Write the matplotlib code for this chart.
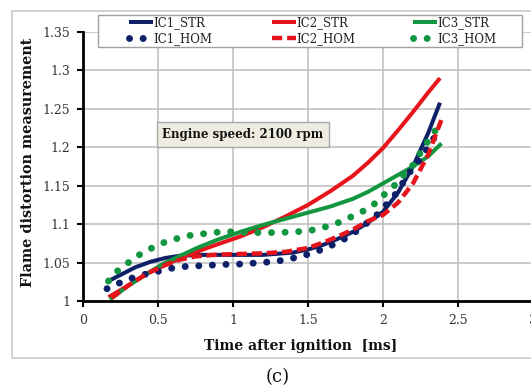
import matplotlib
matplotlib.use('Agg')
import matplotlib.pyplot as plt
from matplotlib.patches import Rectangle

# ---------------- data ----------------
ic1_str_t = [0.17, 0.25, 0.35, 0.45, 0.55, 0.65, 0.8, 1.0, 1.2, 1.4, 1.5, 1.6, 1.7, 1.8, 1.9, 2.0, 2.1, 2.2, 2.3, 2.38]
ic1_str_v = [1.026, 1.034, 1.044, 1.051, 1.056, 1.059, 1.060, 1.060, 1.060, 1.063, 1.067, 1.073, 1.081, 1.090, 1.102, 1.116, 1.141, 1.175, 1.218, 1.258]

ic2_str_t = [0.17, 0.3, 0.43, 0.55, 0.65, 0.8, 0.9, 1.05, 1.2, 1.35, 1.5, 1.65, 1.8, 1.9, 2.0, 2.1, 2.2, 2.3, 2.38]
ic2_str_v = [1.005, 1.020, 1.036, 1.047, 1.056, 1.067, 1.074, 1.084, 1.096, 1.110, 1.125, 1.143, 1.163, 1.180, 1.199, 1.222, 1.246, 1.271, 1.290]

ic3_str_t = [0.18, 0.31, 0.43, 0.53, 0.65, 0.76, 0.9, 1.05, 1.2, 1.35, 1.5, 1.65, 1.8, 1.9, 2.0, 2.1, 2.2, 2.3, 2.39]
ic3_str_v = [1.002, 1.021, 1.036, 1.048, 1.059, 1.069, 1.080, 1.090, 1.099, 1.107, 1.115, 1.123, 1.133, 1.142, 1.153, 1.164, 1.175, 1.188, 1.205]

ic1_hom_t = [0.16, 0.25, 0.33, 0.42, 0.51, 0.6, 0.69, 0.79, 0.89, 0.99, 1.08, 1.17, 1.27, 1.36, 1.45, 1.54, 1.63, 1.71, 1.79, 1.87, 1.95, 2.0, 2.07, 2.13, 2.18, 2.25, 2.3, 2.36]
ic1_hom_v = [1.016, 1.024, 1.030, 1.035, 1.039, 1.043, 1.045, 1.046, 1.047, 1.048, 1.048, 1.050, 1.051, 1.054, 1.058, 1.063, 1.070, 1.077, 1.086, 1.098, 1.110, 1.121, 1.135, 1.153, 1.168, 1.185, 1.200, 1.218]

ic2_hom_t = [0.19, 0.3, 0.43, 0.55, 0.65, 0.75, 0.87, 1.0, 1.2, 1.35, 1.5, 1.6, 1.7, 1.8, 1.9, 2.0, 2.1, 2.2, 2.3, 2.39]
ic2_hom_v = [1.004, 1.020, 1.036, 1.047, 1.054, 1.058, 1.060, 1.061, 1.062, 1.064, 1.069, 1.076, 1.084, 1.093, 1.104, 1.112, 1.128, 1.153, 1.190, 1.236]

ic3_hom_t = [0.17, 0.23, 0.31, 0.39, 0.47, 0.55, 0.64, 0.73, 0.83, 0.92, 1.02, 1.11, 1.21, 1.31, 1.41, 1.5, 1.59, 1.68, 1.76, 1.85, 1.93, 2.0, 2.07, 2.14, 2.2, 2.25, 2.3, 2.36]
ic3_hom_v = [1.026, 1.039, 1.051, 1.062, 1.070, 1.077, 1.082, 1.086, 1.088, 1.090, 1.090, 1.089, 1.089, 1.089, 1.090, 1.091, 1.095, 1.100, 1.107, 1.115, 1.124, 1.137, 1.149, 1.164, 1.177, 1.193, 1.208, 1.225]

x_ticks = [0, 0.5, 1, 1.5, 2, 2.5, 3]
x_tick_labels = ['0', '0.5', '1', '1.5', '2', '2.5', '3']
y_ticks = [1, 1.05, 1.1, 1.15, 1.2, 1.25, 1.3, 1.35]
y_tick_labels = ['1', '1.05', '1.1', '1.15', '1.2', '1.25', '1.3', '1.35']

series_names = ['IC1_STR', 'IC1_HOM', 'IC2_STR', 'IC2_HOM', 'IC3_STR', 'IC3_HOM']
x_label = 'Time after ignition  [ms]'
y_label = 'Flame distortion measurement'
note_text = 'Engine speed: 2100 rpm'
panel_label = '(c)'

# ---------------- style ----------------
NAVY = '#0E2068'
RED = '#E8141B'
GREEN = '#12963F'
GRID = '#BDBDBD'

plt.rcParams['font.family'] = ['DejaVu Serif']

W, H, DPI = 531, 392, 100
fig = plt.figure(figsize=(W / DPI, H / DPI), dpi=DPI)


def fx(px):
    return px / W


def fy(py):
    return 1 - py / H


# outer chart border
fig.patches.append(Rectangle((fx(12), fy(358)), 1.2, fy(11) - fy(358), transform=fig.transFigure,
                             fill=False, edgecolor='#CACACA', lw=1.2, zorder=-1))

ax = fig.add_axes([fx(83), fy(301), (533 - 83) / W, (301 - 32) / H])
ax.set_xlim(0, 3)
ax.set_ylim(1, 1.35)
for s in ['top', 'right']:
    ax.spines[s].set_visible(False)
for s in ['left', 'bottom']:
    ax.spines[s].set_linewidth(2.0)
    ax.spines[s].set_color('black')
ax.set_xticks(x_ticks)
ax.set_xticklabels(x_tick_labels)
ax.set_yticks(y_ticks)
ax.set_yticklabels(y_tick_labels)
ax.tick_params(direction='out', length=4, width=1.5, labelsize=9, colors='black', labelcolor='#333333')
ax.tick_params(axis='x', pad=5)
ax.tick_params(axis='y', pad=5)
ax.grid(True, color=GRID, lw=1.1)
ax.set_axisbelow(True)

solid_kw = dict(lw=2.9, solid_capstyle='butt')
dot_kw = dict(lw=5.0, linestyle=(0, (0.01, 1.95)), dash_capstyle='round')
dash_kw = dict(lw=3.2, linestyle=(0, (2.3, 1.1)), dash_capstyle='butt')

l1s, = ax.plot(ic1_str_t, ic1_str_v, color=NAVY, **solid_kw)
l2s, = ax.plot(ic2_str_t, ic2_str_v, color=RED, **solid_kw)
l3s, = ax.plot(ic3_str_t, ic3_str_v, color=GREEN, **solid_kw)
l1h, = ax.plot(ic1_hom_t, ic1_hom_v, color=NAVY, **dot_kw)
l3h, = ax.plot(ic3_hom_t, ic3_hom_v, color=GREEN, **dot_kw)
l2h, = ax.plot(ic2_hom_t, ic2_hom_v, color=RED, **dash_kw)

# note box
ax.add_patch(Rectangle((0.493, 1.2005), 1.64 - 0.493, 1.233 - 1.2005, facecolor='#EEECE1',
                       edgecolor='#A8A8A8', lw=1.0, zorder=6))
note = ax.text(1.067, 1.2168, note_text, ha='center', va='center', fontweight='bold',
               fontsize=9, zorder=7, color='#111111')

# legend box
fig.patches.append(Rectangle((fx(98), fy(47)), fx(522) - fx(98), fy(15) - fy(47), transform=fig.transFigure,
                             facecolor='white', edgecolor='#A0A0A0', lw=1.0, zorder=3))
cols = [((l1s, l1h), series_names[0:2], 129),
        ((l2s, l2h), series_names[2:4], 272),
        ((l3s, l3h), series_names[4:6], 413)]
for handles, labels, xpx in cols:
    lg = fig.legend(handles, labels, loc='upper left', bbox_to_anchor=(fx(xpx), fy(16)),
                    frameon=False, borderpad=0, borderaxespad=0, handlelength=2.0,
                    handletextpad=0.1, labelspacing=0.25, fontsize=8.5)
    for t in lg.get_texts():
        t.set_color('#222222')

# labels
ylab = fig.text(fx(28), fy(162), y_label, rotation=90, ha='center', va='center', fontweight='bold',
                fontsize=10, color='#111111')
xlab = fig.text(fx(301), fy(346), x_label, ha='center', va='center', fontweight='bold',
                fontsize=10, color='#111111')
pan = fig.text(fx(278), fy(377), panel_label, ha='center', va='center', fontsize=13, color='#111111')

# fit text widths to the reference footprint
renderer = fig.canvas.get_renderer()


def fit(t, target, vertical=False):
    bb = t.get_window_extent(renderer)
    cur = bb.height if vertical else bb.width
    t.set_fontsize(t.get_fontsize() * target / cur)


fit(ylab, 250, vertical=True)
fit(xlab, 193)
fit(note, 161)

fig.savefig('out.png', dpi=DPI)
